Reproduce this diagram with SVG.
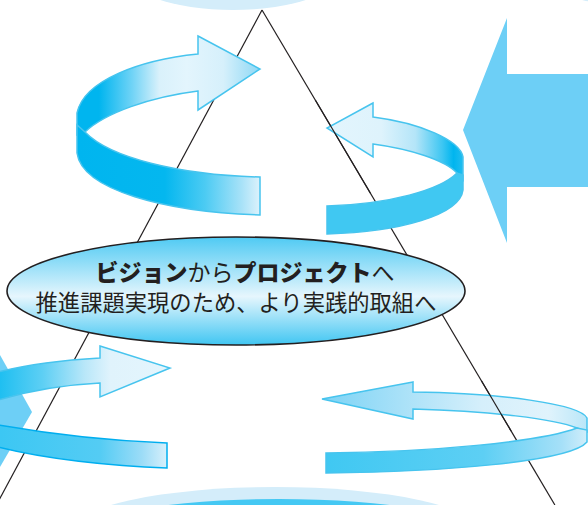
<svg xmlns="http://www.w3.org/2000/svg" width="588" height="505" viewBox="0 0 588 505">
<style>
.tri{stroke:#231f20;stroke-width:1.2;fill:none}
.rib{stroke:#47c4ee;stroke-width:1.5;stroke-linejoin:miter}
.t1{font-family:"Noto Sans CJK JP","Noto Sans",sans-serif;fill:#231f20}
</style>
<defs>
<linearGradient id="tlA" gradientUnits="userSpaceOnUse" x1="77" y1="0" x2="260" y2="0">
<stop offset="0" stop-color="#00b5ef"/><stop offset="0.12" stop-color="#00b5ef"/><stop offset="0.3" stop-color="#6fd3f6"/><stop offset="0.45" stop-color="#d9f1fb"/><stop offset="0.6" stop-color="#e3f5fd"/><stop offset="0.8" stop-color="#d6f0fb"/><stop offset="1" stop-color="#8ed8f5"/>
</linearGradient>
<linearGradient id="tlB" gradientUnits="userSpaceOnUse" x1="77" y1="0" x2="260" y2="0">
<stop offset="0" stop-color="#00b5ef"/><stop offset="0.48" stop-color="#04b7ef"/><stop offset="0.7" stop-color="#4ccbf3"/><stop offset="0.9" stop-color="#a8e2f8"/><stop offset="1" stop-color="#dcf2fc"/>
</linearGradient>
<linearGradient id="trA" gradientUnits="userSpaceOnUse" x1="327" y1="0" x2="463" y2="0">
<stop offset="0" stop-color="#e3f5fd"/><stop offset="0.4" stop-color="#def3fc"/><stop offset="0.65" stop-color="#b4e5f8"/><stop offset="0.85" stop-color="#3cc6f2"/><stop offset="0.93" stop-color="#00b5ef"/><stop offset="1" stop-color="#20bdf0"/>
</linearGradient>
<linearGradient id="blA" gradientUnits="userSpaceOnUse" x1="0" y1="0" x2="170" y2="0">
<stop offset="0" stop-color="#1fbff1"/><stop offset="0.25" stop-color="#5dcff4"/><stop offset="0.5" stop-color="#b9e7f9"/><stop offset="0.65" stop-color="#e0f3fc"/><stop offset="1" stop-color="#e4f5fd"/>
</linearGradient>
<linearGradient id="blB" gradientUnits="userSpaceOnUse" x1="0" y1="0" x2="167" y2="0">
<stop offset="0" stop-color="#3cc7f3"/><stop offset="0.6" stop-color="#54ccf4"/><stop offset="0.85" stop-color="#9cdcf7"/><stop offset="1" stop-color="#d8f0fb"/>
</linearGradient>
<linearGradient id="brA" gradientUnits="userSpaceOnUse" x1="322" y1="0" x2="588" y2="0">
<stop offset="0" stop-color="#7cd3f5"/><stop offset="0.3" stop-color="#a9e1f8"/><stop offset="0.6" stop-color="#d5effb"/><stop offset="0.85" stop-color="#e0f3fc"/><stop offset="1" stop-color="#b9e6f8"/>
</linearGradient>
<linearGradient id="brB" gradientUnits="userSpaceOnUse" x1="326" y1="0" x2="588" y2="0">
<stop offset="0" stop-color="#40c8f2"/><stop offset="0.6" stop-color="#5dcff4"/><stop offset="0.9" stop-color="#a6e0f8"/><stop offset="1" stop-color="#d2eefa"/>
</linearGradient>
<linearGradient id="ell" x1="0" y1="0" x2="0" y2="1">
<stop offset="0" stop-color="#4fcaf3"/><stop offset="0.55" stop-color="#e6f6fd"/><stop offset="1" stop-color="#40c6f2"/>
</linearGradient>
</defs>

<g id="background">
<ellipse cx="233" cy="-30" rx="110" ry="40" fill="#d4edfa"/>
<ellipse cx="645" cy="-32" rx="110" ry="39" fill="#d4edfa"/>
<ellipse cx="275" cy="532" rx="205" ry="45" fill="#d4edfa"/>
<ellipse cx="279" cy="535" rx="200" ry="36" fill="#45c8f3"/>
</g>

<g id="big-arrow-right">
<polygon points="588,74 507,74 507,18 463,130 507,243 507,187 588,187" fill="#6dcff6"/>
</g>
<g id="chevron-left">
<polygon points="0,355 32,412 0,467" fill="#6dcff6"/>
</g>

<g id="connectors">
<line class="tri" x1="262" y1="10" x2="-3.6" y2="505"/>
<line class="tri" x1="262" y1="10" x2="554.9" y2="505"/>
</g>

<g id="arrow-top-left">
<path class="rib" fill="url(#tlA)" d="M198,36 L260,69 L198,110 L198,91 C150,97 105,113 85,132 L77,135 L77,113 C84,80 140,60 198,54 Z"/>
<path class="rib" fill="url(#tlB)" d="M85,132 C110,158 180,175 260,177 L260,215 C165,212 82,190 77,153 L77,125 Z"/>
</g>

<g id="arrow-bottom-left">
<path class="rib" fill="url(#blA)" d="M100,346 L170,368 L100,397 L100,383 C60,385 25,392 -2,400 L-2,372 C30,364 65,360 100,358 Z"/>
<path fill="url(#blB)" stroke="#00aeef" stroke-width="1.5" d="M-2,425 C50,434 110,441 167,443 L167,468 C110,466 45,459 -2,447 Z"/>
</g>

<g id="arrow-top-right">
<path class="rib" fill="url(#trA)" d="M373,103 L327,128 L373,157 L373,144 C410,149 445,160 457,173 L463,180 L463,157 C460,140 420,123 373,117 Z"/>
<path class="rib" fill="#40c8f2" d="M457,173 C440,190 390,204 327,206 L327,234 C400,232 460,215 463,190 L463,175 Z"/>
</g>

<g id="arrow-bottom-right">
<path class="rib" fill="url(#brA)" d="M413,382 L322,399 L413,419 L413,409 C490,411 555,419 577,428 L587,432 L587,418 C580,404 500,393 413,392 Z"/>
<path class="rib" fill="url(#brB)" d="M577,428 C540,442 430,452 326,453 L326,473 C440,472 570,462 587,442 L587,430 Z"/>
</g>

<g id="line-over-back">
<line class="tri" x1="315.3" y1="100" x2="370.3" y2="193"/>
<line class="tri" x1="481.6" y1="381" x2="511.1" y2="431"/>
</g>

<g id="center-ellipse">
<ellipse cx="236" cy="291" rx="229" ry="54" fill="url(#ell)" stroke="#231f20" stroke-width="1.6"/>
<text class="t1" x="245" y="281" font-size="23" text-anchor="middle"><tspan font-weight="900">ビジョン</tspan><tspan font-weight="400">から</tspan><tspan font-weight="900">プロジェクト</tspan><tspan font-weight="400">へ</tspan></text>
<text class="t1" x="236" y="311" font-size="22.3" text-anchor="middle" font-weight="400">推進課題実現のため、より実践的取組へ</text>
</g>
</svg>
